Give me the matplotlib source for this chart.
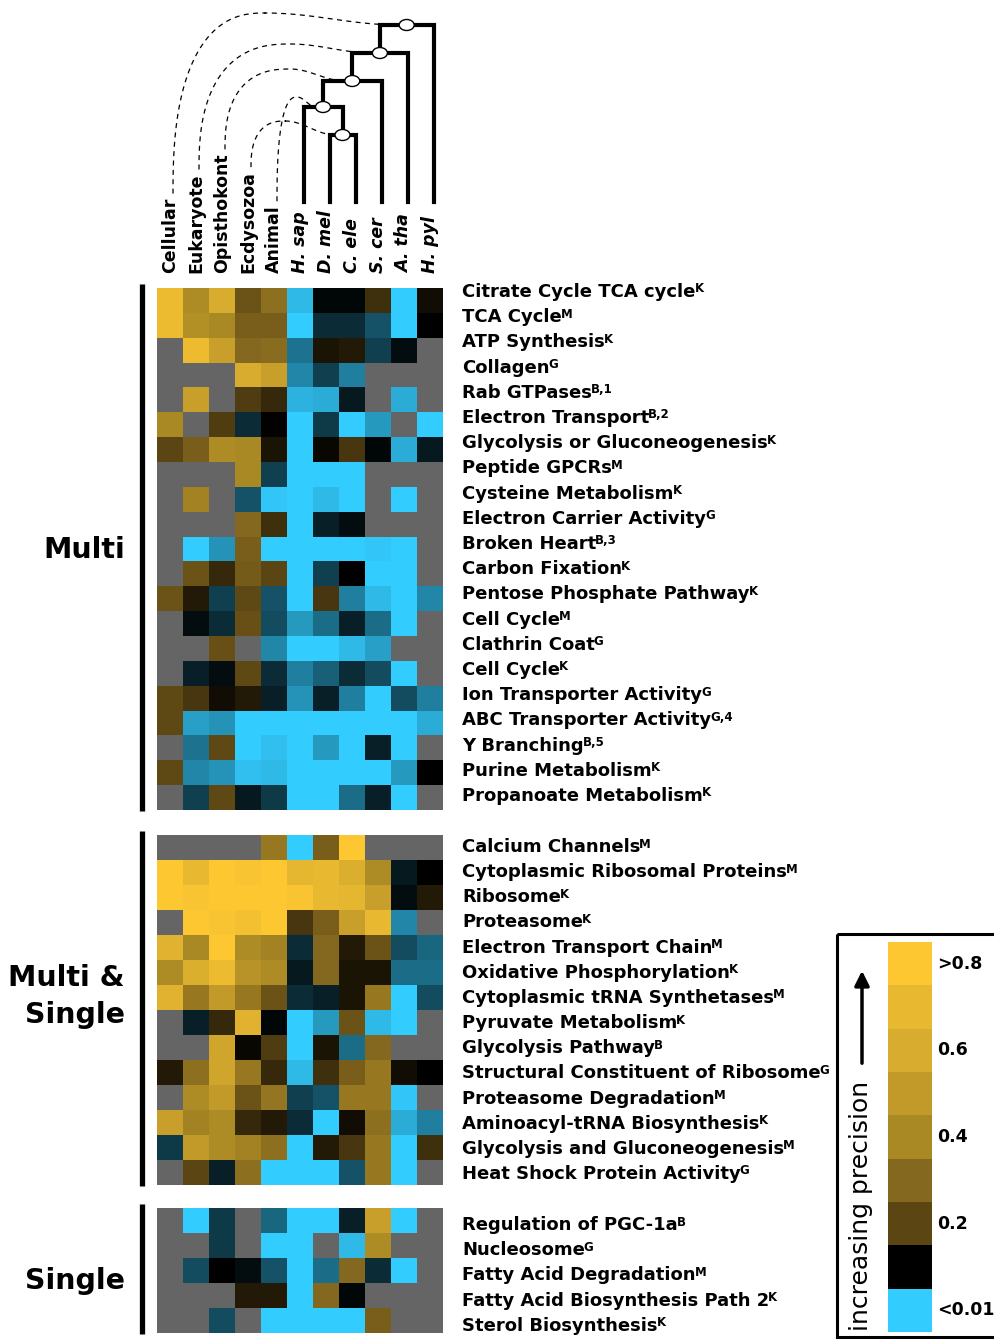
import numpy as np
import matplotlib
matplotlib.use('Agg')
import matplotlib.pyplot as plt
from matplotlib.colors import LinearSegmentedColormap, Normalize
from matplotlib.patches import Ellipse, Rectangle

nan = np.nan

columns = ['Cellular', 'Eukaryote', 'Opisthokont', 'Ecdysozoa', 'Animal',
           'H. sap', 'D. mel', 'C. ele', 'S. cer', 'A. tha', 'H. pyl']

# precision per term (nan = not tested)
multi_terms = ['Citrate Cycle TCA cycle', 'TCA Cycle', 'ATP Synthesis', 'Collagen',
               'Rab GTPases', 'Electron Transport', 'Glycolysis or Gluconeogenesis',
               'Peptide GPCRs', 'Cysteine Metabolism', 'Electron Carrier Activity',
               'Broken Heart', 'Carbon Fixation', 'Pentose Phosphate Pathway',
               'Cell Cycle', 'Clathrin Coat', 'Cell Cycle', 'Ion Transporter Activity',
               'ABC Transporter Activity', 'Y Branching', 'Purine Metabolism',
               'Propanoate Metabolism']
multi_src = ['K', 'M', 'K', 'G', 'B,1', 'B,2', 'K', 'M', 'K', 'G', 'B,3', 'K', 'K',
             'M', 'G', 'K', 'G', 'G,4', 'B,5', 'K', 'K']
multi_vals = np.array([
    [0.72, 0.42, 0.60, 0.24, 0.32, 0.01, 0.097, 0.097, 0.17, 0.0, 0.12],
    [0.72, 0.44, 0.40, 0.27, 0.27, 0.0, 0.08, 0.08, 0.06, 0.0, 0.10],
    [nan, 0.72, 0.53, 0.30, 0.31, 0.045, 0.13, 0.14, 0.07, 0.095, nan],
    [nan, nan, nan, 0.60, 0.53, 0.035, 0.07, 0.04, nan, nan, nan],
    [nan, 0.53, nan, 0.19, 0.16, 0.015, 0.018, 0.09, nan, 0.018, nan],
    [0.40, nan, 0.19, 0.08, 0.105, 0.0, 0.075, 0.0, 0.025, nan, 0.0],
    [0.20, 0.27, 0.42, 0.40, 0.13, 0.0, 0.11, 0.18, 0.097, 0.018, 0.09],
    [nan, nan, nan, 0.40, 0.07, 0.0, 0.0, 0.002, nan, nan, nan],
    [nan, 0.38, nan, 0.06, 0.005, 0.0, 0.012, 0.0, nan, 0.0, nan],
    [nan, nan, nan, 0.30, 0.17, 0.0, 0.085, 0.095, nan, nan, nan],
    [nan, 0.0, 0.03, 0.27, 0.0, 0.0, 0.0, 0.0, 0.004, 0.0, nan],
    [nan, 0.24, 0.16, 0.26, 0.20, 0.0, 0.07, 0.10, 0.0, 0.0, nan],
    [0.24, 0.14, 0.07, 0.21, 0.06, 0.0, 0.18, 0.038, 0.01, 0.0, 0.035],
    [nan, 0.095, 0.08, 0.23, 0.065, 0.025, 0.048, 0.085, 0.048, 0.0, nan],
    [nan, nan, 0.23, nan, 0.035, 0.0, 0.0, 0.01, 0.022, nan, nan],
    [nan, 0.085, 0.095, 0.21, 0.08, 0.04, 0.055, 0.08, 0.065, 0.0, nan],
    [0.21, 0.18, 0.12, 0.14, 0.085, 0.03, 0.085, 0.038, 0.0, 0.065, 0.038],
    [0.21, 0.022, 0.03, 0.0, 0.0, 0.0, 0.0, 0.0, 0.0, 0.0, 0.018],
    [nan, 0.045, 0.21, 0.0, 0.008, 0.0, 0.025, 0.0, 0.085, 0.0, nan],
    [0.21, 0.035, 0.03, 0.008, 0.012, 0.0, 0.0, 0.0, 0.0, 0.025, 0.10],
    [nan, 0.07, 0.21, 0.088, 0.075, 0.0, 0.0, 0.048, 0.085, 0.0, nan],
])

both_terms = ['Calcium Channels', 'Cytoplasmic Ribosomal Proteins', 'Ribosome',
              'Proteasome', 'Electron Transport Chain', 'Oxidative Phosphorylation',
              'Cytoplasmic tRNA Synthetases', 'Pyruvate Metabolism', 'Glycolysis Pathway',
              'Structural Constituent of Ribosome', 'Proteasome Degradation',
              'Aminoacyl-tRNA Biosynthesis', 'Glycolysis and Gluconeogenesis',
              'Heat Shock Protein Activity']
both_src = ['M', 'M', 'K', 'K', 'M', 'K', 'M', 'K', 'B', 'G', 'M', 'K', 'M', 'G']
both_vals = np.array([
    [nan, nan, nan, nan, 0.35, 0.0, 0.27, 0.85, nan, nan, nan],
    [0.85, 0.70, 0.85, 0.78, 0.85, 0.68, 0.70, 0.62, 0.42, 0.09, 0.10],
    [0.85, 0.78, 0.85, 0.85, 0.85, 0.78, 0.70, 0.68, 0.53, 0.095, 0.14],
    [nan, 0.80, 0.78, 0.75, 0.85, 0.18, 0.27, 0.53, 0.70, 0.035, nan],
    [0.65, 0.40, 0.80, 0.42, 0.38, 0.08, 0.30, 0.14, 0.24, 0.065, 0.05],
    [0.42, 0.62, 0.72, 0.46, 0.42, 0.09, 0.30, 0.13, 0.13, 0.048, 0.048],
    [0.65, 0.35, 0.50, 0.35, 0.24, 0.08, 0.085, 0.13, 0.35, 0.0, 0.065],
    [nan, 0.085, 0.16, 0.65, 0.097, 0.0, 0.025, 0.24, 0.01, 0.0, nan],
    [nan, nan, 0.56, 0.11, 0.19, 0.0, 0.13, 0.048, 0.30, nan, nan],
    [0.14, 0.32, 0.56, 0.35, 0.16, 0.012, 0.17, 0.27, 0.35, 0.12, 0.10],
    [nan, 0.42, 0.50, 0.24, 0.34, 0.07, 0.06, 0.35, 0.35, 0.005, nan],
    [0.53, 0.38, 0.42, 0.16, 0.14, 0.08, 0.0, 0.12, 0.32, 0.018, 0.04],
    [0.075, 0.50, 0.42, 0.38, 0.32, 0.0, 0.14, 0.18, 0.35, 0.0, 0.17],
    [nan, 0.20, 0.085, 0.32, 0.0, 0.0, 0.0, 0.06, 0.35, 0.0, nan],
])

single_terms = ['Regulation of PGC-1a', 'Nucleosome', 'Fatty Acid Degradation',
                'Fatty Acid Biosynthesis Path 2', 'Sterol Biosynthesis']
single_src = ['B', 'G', 'M', 'K', 'K']
single_vals = np.array([
    [nan, 0.0, 0.075, nan, 0.05, 0.0, 0.0, 0.085, 0.53, 0.0, nan],
    [nan, nan, 0.075, nan, 0.0, 0.0, nan, 0.01, 0.42, nan, nan],
    [nan, 0.065, 0.10, 0.095, 0.06, 0.0, 0.048, 0.30, 0.08, 0.0, nan],
    [nan, nan, nan, 0.14, 0.14, 0.0, 0.30, 0.097, nan, nan, nan],
    [nan, nan, 0.065, nan, 0.0, 0.0, 0.0, 0.0, 0.27, nan, nan],
])

levels = [0.0, 0.1, 0.2, 0.3, 0.4, 0.5, 0.6, 0.7, 0.8]
level_colors = ['#33ccff', '#000000', '#5a4513', '#86691f', '#a98924',
                '#c29a2a', '#d8ac2e', '#e8b830', '#fdc731']
cbar_labels = ['<0.01', '0.2', '0.4', '0.6', '>0.8']
cbar_label_levels = [0.0, 0.2, 0.4, 0.6, 0.8]

cmap = LinearSegmentedColormap.from_list(
    'prec', [(v / 0.8, c) for v, c in zip(levels, level_colors)])
cmap.set_bad('#656565')
norm = Normalize(vmin=0, vmax=0.8, clip=True)

fig = plt.figure(figsize=(9.94, 13.4), dpi=100)
ax = fig.add_axes([0, 0, 1, 1])
ax.set_xlim(0, 994)
ax.set_ylim(1340, 0)
ax.axis('off')
renderer = fig.canvas.get_renderer()
inv = ax.transData.inverted()

FS = 13
x_edges = np.linspace(157, 443, len(columns) + 1)
col_x = (x_edges[:-1] + x_edges[1:]) / 2

# blocks: values, terms, sources, top, row height, first label y, label step
blocks = [
    (multi_vals, multi_terms, multi_src, 288, 24.86, 291, 25.2),
    (both_vals, both_terms, both_src, 835, 25.0, 846, 25.15),
    (single_vals, single_terms, single_src, 1208, 25.0, 1224, 25.25),
]

for vals, terms, srcs, top, rh, ly0, lstep in blocks:
    y_edges = top + rh * np.arange(vals.shape[0] + 1)
    ax.pcolormesh(x_edges, y_edges, np.ma.masked_invalid(vals), cmap=cmap,
                  norm=norm, shading='flat', antialiased=False)
    # bracket on the left
    ax.plot([142, 142], [top - 4, y_edges[-1] + 1], color='black', lw=3.8,
            solid_capstyle='butt')
    for i, (term, src) in enumerate(zip(terms, srcs)):
        yb = ly0 + lstep * i + 6
        t = ax.text(462, yb, term, fontsize=FS, fontweight='bold', va='baseline')
        bb = t.get_window_extent(renderer=renderer)
        xr = inv.transform((bb.x1, bb.y0))[0]
        ax.text(xr - 1, yb - 4.5, src, fontsize=8.5, fontweight='bold', va='baseline')

# group names
ax.text(125, 558, 'Multi', fontsize=20.5, fontweight='bold', ha='right', va='baseline')
ax.text(125, 986, 'Multi &', fontsize=20.5, fontweight='bold', ha='right', va='baseline')
ax.text(125, 1023, 'Single', fontsize=20.5, fontweight='bold', ha='right', va='baseline')
ax.text(125, 1289, 'Single', fontsize=20.5, fontweight='bold', ha='right', va='baseline')

# column labels
label_tops = []
for i, name in enumerate(columns):
    style = 'italic' if i >= 5 else 'normal'
    t = ax.text(col_x[i], 273, name, rotation=90, fontsize=12.5, fontweight='bold',
                fontstyle=style, ha='center', va='bottom')
    bb = t.get_window_extent(renderer=renderer)
    label_tops.append(inv.transform((bb.x0, bb.y1))[1])

# species tree
tip_x = col_x[5:] + 3.5
tip_bottom = 202
TREE_LW = 3.0
joins = [(tip_x[1], tip_x[2], 135),   # D. mel + C. ele
         (tip_x[0], None, 107),       # + H. sap
         (None, tip_x[3], 81),        # + S. cer
         (None, tip_x[4], 53),        # + A. tha
         (None, tip_x[5], 25)]        # + H. pyl
node_xy = []
prev_x, prev_y = None, None
for left, right, y in joins:
    lx = left if left is not None else prev_x
    rx = right if right is not None else prev_x
    ly = tip_bottom if left is not None else prev_y
    ry = tip_bottom if right is not None else prev_y
    ax.plot([lx, lx, rx, rx], [ly, y, y, ry], color='black', lw=TREE_LW,
            solid_joinstyle='miter', solid_capstyle='projecting')
    prev_x, prev_y = (lx + rx) / 2, y
    node_xy.append((prev_x, prev_y))

# dashed links from clade names to tree nodes
links = [(0, 4, 265, 13), (1, 3, 290, 44), (2, 2, 290, 69), (3, 0, 285, 121), (4, 1, 297, 97)]
for ci, ni, xp, yp in links:
    x0, y0 = col_x[ci] + 3, label_tops[ci] - 4
    x1, y1 = node_xy[ni][0] - 7, node_xy[ni][1]
    th = np.linspace(np.pi, np.pi / 2, 60)
    c, s = np.cos(th), np.sin(th)
    xa = xp + (xp - x0) * np.sign(c) * np.abs(c) ** 0.8
    ya = y0 - (y0 - yp) * s ** 0.8
    u = np.linspace(0, 1, 40)
    xb = xp + (x1 - xp) * u
    yb = yp + (y1 - yp) * (1 - np.cos(np.pi * u)) / 2
    ax.plot(np.r_[xa, xb], np.r_[ya, yb], color='black', lw=0.9,
            linestyle=(0, (4, 3.5)))
for x, y in node_xy:
    ax.add_patch(Ellipse((x, y), 15, 11, facecolor='white', edgecolor='black',
                         lw=1.0, zorder=5))

# colour key
ax.add_patch(Rectangle((837, 934), 170, 403, fill=False, edgecolor='black', lw=2.2))
cb_edges = np.linspace(1332, 942, len(levels) + 1)
ax.pcolormesh([888, 932], cb_edges, np.array(levels)[:, None], cmap=cmap, norm=norm,
              shading='flat', antialiased=False)
for lab, lv in zip(cbar_labels, cbar_label_levels):
    k = levels.index(lv)
    ax.text(937, (cb_edges[k] + cb_edges[k + 1]) / 2, lab, fontsize=12.5,
            fontweight='bold', va='center')
ax.text(861, 1331, 'increasing precision', rotation=90, fontsize=18,
        ha='center', va='bottom')
ax.annotate('', xy=(862, 968), xytext=(862, 1066),
            arrowprops=dict(arrowstyle='-|>', lw=2.5, color='black', mutation_scale=22))

plt.savefig('out.png', dpi=100)
